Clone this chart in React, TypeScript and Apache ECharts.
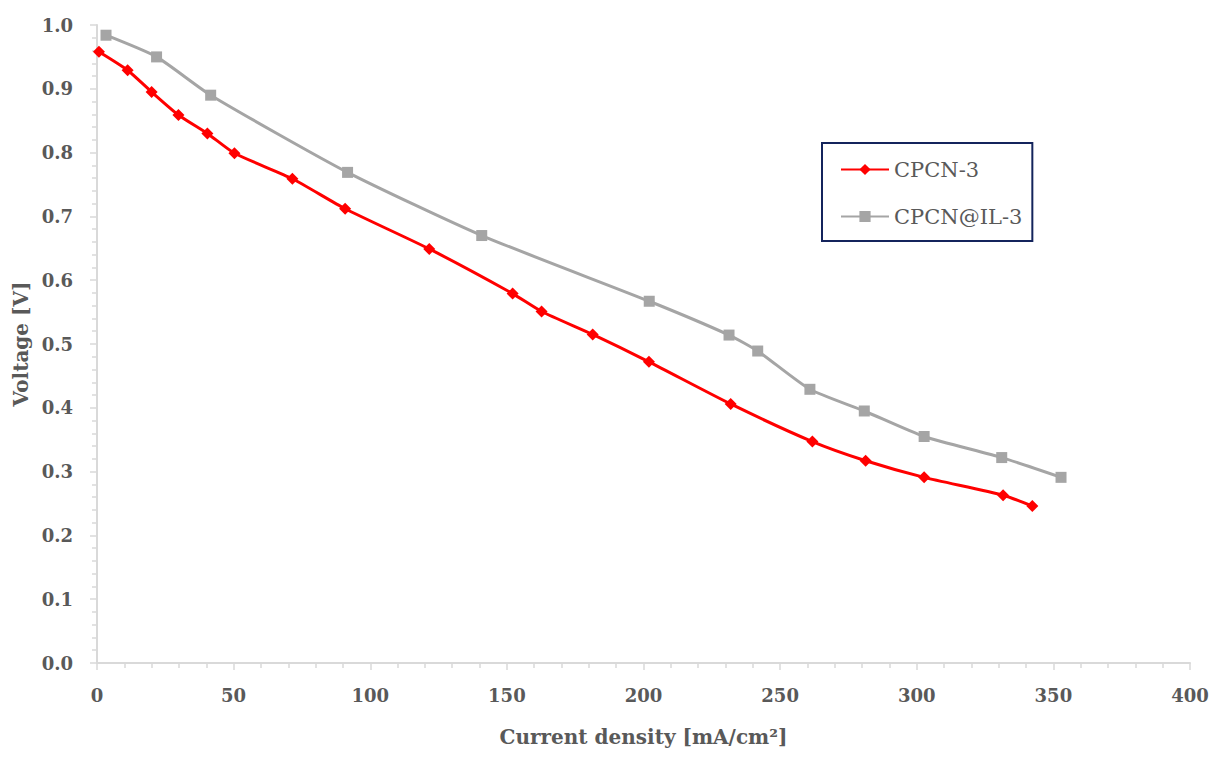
import React, { useEffect, useRef } from "react";
import * as echarts from "echarts";

// CPCN-3 polarization curve
const cpcnX = [0.7, 11.2, 20.0, 29.8, 40.4, 50.3, 71.5, 90.8, 121.6, 152.1, 162.7, 181.4, 202.0, 231.9, 261.8, 281.3, 302.7, 331.6, 342.3];
const cpcnY = [0.958, 0.929, 0.895, 0.859, 0.83, 0.799, 0.759, 0.712, 0.649, 0.579, 0.551, 0.515, 0.472, 0.406, 0.347, 0.317, 0.291, 0.263, 0.246];

// CPCN@IL-3 polarization curve
const ilX = [3.3, 21.8, 41.6, 91.7, 140.8, 202.1, 231.3, 241.8, 260.9, 280.8, 302.7, 331.1, 352.8];
const ilY = [0.984, 0.95, 0.89, 0.769, 0.67, 0.567, 0.514, 0.489, 0.429, 0.395, 0.355, 0.322, 0.291];

const seriesNames = ["CPCN-3", "CPCN@IL-3"];
const xTitle = "Current density [mA/cm²]";
const yTitle = "Voltage [V]";

const font = "'DejaVu Serif', serif";
const textColor = "#595959";
const axisColor = "#d9d9d9";

const App: React.FC = () => {
  const chartRef = useRef<HTMLDivElement>(null);

  useEffect(() => {
    const chart = echarts.init(chartRef.current!, undefined, { renderer: "svg" });

    const option: echarts.EChartsOption = {
      animation: false,
      backgroundColor: "#ffffff",
      grid: { left: 97, right: 32, top: 25, bottom: 102 },
      legend: {
        orient: "vertical",
        left: 822,
        top: 143,
        padding: [16, 10, 14, 18],
        itemGap: 26,
        itemWidth: 48,
        itemHeight: 14,
        borderColor: "#14245c",
        borderWidth: 2,
        textStyle: { fontFamily: font, fontSize: 21, color: textColor },
        data: seriesNames,
      },
      xAxis: {
        type: "value",
        min: 0,
        max: 400,
        interval: 50,
        name: xTitle,
        nameLocation: "middle",
        nameGap: 64,
        nameTextStyle: { fontFamily: font, fontSize: 20, fontWeight: "bold", color: textColor },
        axisLine: { lineStyle: { color: axisColor, width: 2 } },
        axisTick: { length: 7, lineStyle: { color: axisColor, width: 1.5 } },
        minorTick: { show: true, splitNumber: 5, length: 5, lineStyle: { color: axisColor, width: 1.5 } },
        splitLine: { show: false },
        axisLabel: { margin: 23, fontFamily: font, fontSize: 18, fontWeight: "bold", color: textColor },
      },
      yAxis: {
        type: "value",
        min: 0,
        max: 1,
        interval: 0.1,
        name: yTitle,
        nameLocation: "middle",
        nameGap: 64,
        nameTextStyle: { fontFamily: font, fontSize: 20, fontWeight: "bold", color: textColor },
        axisLine: { show: true, lineStyle: { color: axisColor, width: 2 } },
        axisTick: { show: true, length: 7, lineStyle: { color: axisColor, width: 1.5 } },
        minorTick: { show: true, splitNumber: 5, length: 5, lineStyle: { color: axisColor, width: 1.5 } },
        splitLine: { show: false },
        axisLabel: {
          margin: 24,
          fontFamily: font,
          fontSize: 18,
          fontWeight: "bold",
          color: textColor,
          formatter: (v: number) => v.toFixed(1),
        },
      },
      series: [
        {
          name: seriesNames[0],
          type: "line",
          smooth: 0.2,
          symbol: "diamond",
          symbolSize: 12,
          color: "#ff0000",
          lineStyle: { width: 3, color: "#ff0000" },
          itemStyle: { color: "#ff0000" },
          data: cpcnX.map((x, i) => [x, cpcnY[i]]),
        },
        {
          name: seriesNames[1],
          type: "line",
          smooth: 0.2,
          symbol: "rect",
          symbolSize: 11,
          color: "#a5a5a5",
          lineStyle: { width: 3, color: "#a5a5a5" },
          itemStyle: { color: "#a5a5a5" },
          data: ilX.map((x, i) => [x, ilY[i]]),
        },
      ],
    };

    chart.setOption(option);

    return () => {
      chart.dispose();
    };
  }, []);

  return (
    <div
      ref={chartRef}
      style={{ position: "fixed", left: 0, top: 0, width: "1222px", height: "765px", background: "#fff" }}
    />
  );
};

export default App;
